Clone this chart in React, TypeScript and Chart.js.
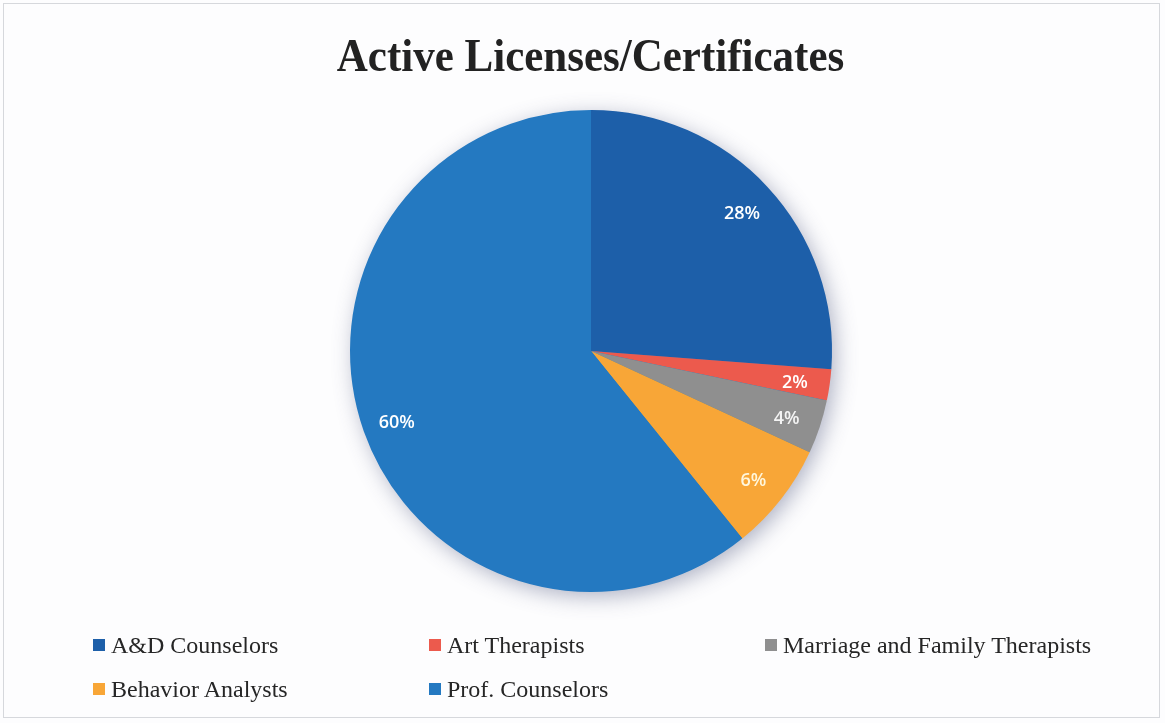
import React, { useEffect, useRef } from "react";
import { Chart, registerables } from "chart.js";

Chart.register(...registerables);

const titleText = "Active Licenses/Certificates";
const categories = [
  "A&D Counselors",
  "Art Therapists",
  "Marriage and Family Therapists",
  "Behavior Analysts",
  "Prof. Counselors",
];
// slice shares
const shares = [26.2, 2.1, 3.6, 7.3, 60.8];
// percentage labels printed on the slices
const pctLabels = ["28%", "2%", "4%", "6%", "60%"];
const colors = ["#1d5fa9", "#ec5a4d", "#8f8f8f", "#f8a637", "#2479c1"];
const labelColors = ["#ffffff", "#ffffff", "#f4f4f4", "#fff6dc", "#ffffff"];

const shadowPlugin = {
  id: "pieShadow",
  beforeDatasetsDraw(chart: any) {
    const meta = chart.getDatasetMeta(0);
    if (!meta.data.length) return;
    const a = meta.data[0];
    const ctx = chart.ctx;
    ctx.save();
    ctx.shadowColor = "rgba(70,80,120,0.45)";
    ctx.shadowBlur = 22;
    ctx.shadowOffsetX = 4;
    ctx.shadowOffsetY = 5;
    ctx.beginPath();
    ctx.arc(a.x, a.y, a.outerRadius - 1, 0, Math.PI * 2);
    ctx.fillStyle = colors[4];
    ctx.fill();
    ctx.restore();
  },
};

const labelPlugin = {
  id: "sliceLabels",
  afterDatasetsDraw(chart: any) {
    const meta = chart.getDatasetMeta(0);
    const ctx = chart.ctx;
    ctx.save();
    ctx.font = "600 18px 'Open Sans', sans-serif";
    ctx.textAlign = "center";
    ctx.textBaseline = "middle";
    meta.data.forEach((arc: any, i: number) => {
      const mid = (arc.startAngle + arc.endAngle) / 2;
      const r = arc.outerRadius * 0.855;
      ctx.fillStyle = labelColors[i];
      ctx.fillText(pctLabels[i], arc.x + Math.cos(mid) * r, arc.y + Math.sin(mid) * r + 3);
    });
    ctx.restore();
  },
};

const legendRows = [
  [0, 1, 2],
  [3, 4],
];
const legendCols = [93, 429, 765];
const legendRowY = [631, 675];

export default function App() {
  const ref = useRef<HTMLCanvasElement>(null);
  useEffect(() => {
    document.body.style.margin = "0";
    const chart = new Chart(ref.current!, {
      type: "pie",
      data: {
        labels: categories,
        datasets: [
          {
            data: shares,
            backgroundColor: colors,
            borderWidth: 0,
          },
        ],
      },
      options: {
        responsive: false,
        animation: false,
        layout: { padding: { left: 350, right: 333, top: 110, bottom: 131 } },
        plugins: {
          legend: { display: false },
          tooltip: { enabled: false },
          title: { display: false },
        },
      },
      plugins: [shadowPlugin, labelPlugin],
    });
    return () => chart.destroy();
  }, []);

  return (
    <div
      style={{
        position: "relative",
        width: 1165,
        height: 723,
        background: "#fdfdfe",
        overflow: "hidden",
        fontFamily: "'Liberation Serif', 'Times New Roman', serif",
      }}
    >
      <div
        style={{
          position: "absolute",
          left: 3,
          top: 3,
          width: 1157,
          height: 715,
          border: "1px solid #d6d8dc",
          boxSizing: "border-box",
        }}
      />
      <canvas ref={ref} width={1165} height={723} style={{ position: "absolute", left: 0, top: 0 }} />
      <div
        style={{
          position: "absolute",
          left: 0,
          width: 1181,
          top: 31,
          textAlign: "center",
          fontWeight: "bold",
          fontSize: 43,
          color: "#222",
          lineHeight: "50px",
          transform: "scaleY(1.08)",
        }}
      >
        {titleText}
      </div>
      {legendRows.map((row, ri) =>
        row.map((ci, k) => (
          <div
            key={ci}
            style={{
              position: "absolute",
              left: legendCols[k],
              top: legendRowY[ri],
              height: 28,
              display: "flex",
              alignItems: "center",
              fontSize: 24,
              color: "#262626",
              whiteSpace: "nowrap",
            }}
          >
            <span
              style={{
                display: "inline-block",
                width: 12,
                height: 12,
                background: colors[ci],
                marginRight: 6,
              }}
            />
            {categories[ci]}
          </div>
        ))
      )}
    </div>
  );
}
